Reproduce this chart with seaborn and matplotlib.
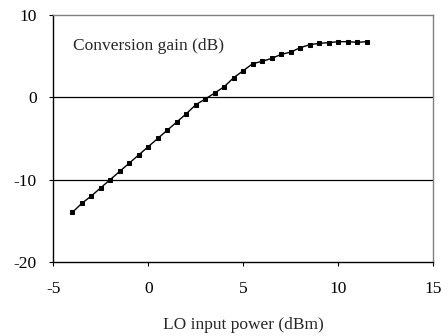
import matplotlib
matplotlib.use("Agg")
import matplotlib.pyplot as plt
import seaborn as sns
import pandas as pd

lo_power = [-4, -3.5, -3, -2.5, -2, -1.5, -1, -0.5, 0, 0.5, 1, 1.5, 2, 2.5, 3, 3.5,
            4, 4.5, 5, 5.5, 6, 6.5, 7, 7.5, 8, 8.5, 9, 9.5, 10, 10.5, 11, 11.5]
gain = [-14, -12.9, -12, -11, -10, -9, -8, -7, -6, -5, -4, -3, -2, -0.9, -0.2, 0.53,
        1.3, 2.4, 3.24, 4.1, 4.38, 4.74, 5.23, 5.5, 6.04, 6.4, 6.57, 6.65, 6.77, 6.77, 6.69, 6.77]
x_ticks = [-5, 0, 5, 10, 15]
y_ticks = [-20, -10, 0, 10]

df = pd.DataFrame({"lo": lo_power, "gain": gain})

sns.set_theme(style="white")
plt.rcParams['font.family'] = ['Liberation Serif', 'DejaVu Serif']

fig = plt.figure(figsize=(4.48, 3.36), dpi=100)
ax = fig.add_axes([0.119, 0.221, 0.848, 0.734])

for yv in [0, -10]:
    ax.axhline(yv, color="black", lw=0.9, zorder=1)

sns.lineplot(data=df, x="lo", y="gain", ax=ax, color="black", lw=1.0,
             marker="s", markersize=3.4, markeredgecolor="black", zorder=3)

ax.set_xlim(-5, 15)
ax.set_ylim(-20, 10)
ax.set_xticks(x_ticks)
ax.set_yticks(y_ticks)
ax.set_xticklabels([str(v) for v in x_ticks])
ax.set_yticklabels([str(v) for v in y_ticks])
ax.tick_params(axis="both", direction="out", length=3, width=0.8, colors="black",
               labelsize=12.5, bottom=True, left=True)
ax.tick_params(axis="x", pad=11)
ax.tick_params(axis="y", pad=9)
ax.set_xlabel("LO input power (dBm)", fontsize=12.5, labelpad=14)
ax.set_ylabel("")

for s in ["left", "bottom"]:
    ax.spines[s].set_color("black")
    ax.spines[s].set_linewidth(1.0)
for s in ["top", "right"]:
    ax.spines[s].set_color("#808080")
    ax.spines[s].set_linewidth(1.0)

ax.text(-3.98, 6.27, "Conversion gain (dB)", fontsize=12.5, va="center", ha="left")

fig.savefig("out.png", dpi=100)
